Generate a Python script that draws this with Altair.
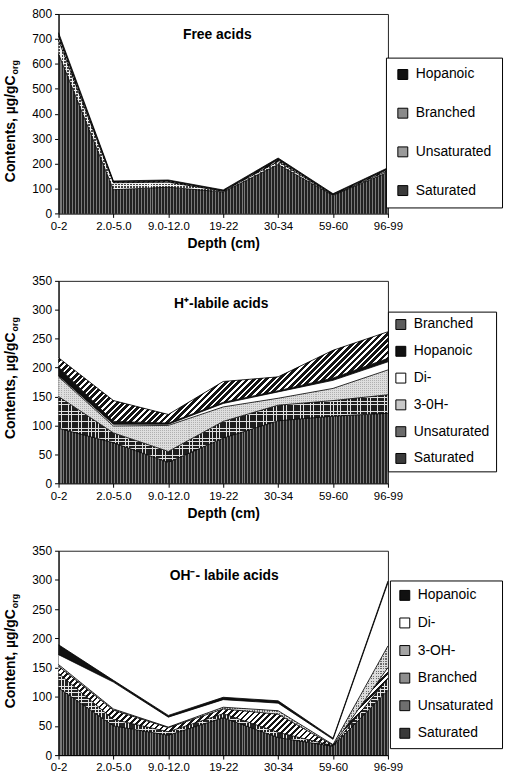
import math

import altair as alt
import pandas as pd

FONT = "Liberation Sans"

DEPTHS = ["0-2", "2.0-5.0", "9.0-12.0", "19-22", "30-34", "59-60", "96-99"]

# Free acids, µg/gC_org (stacked bottom -> top)
FREE_SATURATED = [640, 95, 105, 86, 196, 72, 165]
FREE_UNSATURATED = [55, 28, 20, 3, 12, 2, 6]
FREE_BRANCHED = [15, 3, 4, 2, 6, 2, 5]
FREE_HOPANOIC = [15, 4, 5, 3, 8, 3, 7]

# H+-labile acids
H_SATURATED = [95, 70, 36, 78, 108, 116, 121]
H_UNSATURATED = [55, 17, 19, 29, 27, 27, 32]
H_3OH = [34, 12, 45, 25, 12, 21, 43]
H_DI = [2, 3, 2, 6, 11, 14, 14]
H_HOPANOIC = [15, 5, 2, 2, 2, 4, 6]
H_BRANCHED = [16, 36, 15, 36, 24, 48, 46]

# OH--labile acids
OH_SATURATED = [115, 50, 34, 64, 30, 15, 111]
OH_UNSATURATED = [25, 11, 6, 7, 9, 1, 20]
OH_BRANCHED = [12, 16, 7, 8, 31, 1, 19]
OH_3OH = [3, 2, 1, 3, 6, 1, 37]
OH_DI = [17, 46, 17, 13, 13, 9, 108]
OH_HOPANOIC = [17, 3, 3, 4, 4, 2, 3]

PLOT_W = 332
CLEAR = "rgba(255,255,255,0)"


def stripes(col_a, col_b, n, frac_b, x2, y2):
    """Linear gradient made of n hard-edged bands (col_a then col_b)."""
    stops = []
    for i in range(n):
        s = round(i / n, 5)
        m = round((i + 1 - frac_b) / n, 5)
        e = round((i + 1) / n, 5)
        stops += [
            alt.GradientStop(offset=s, color=col_a),
            alt.GradientStop(offset=m, color=col_a),
            alt.GradientStop(offset=m, color=col_b),
            alt.GradientStop(offset=e, color=col_b),
        ]
    return alt.LinearGradient(gradient="linear", stops=stops, x1=0, y1=0, x2=x2, y2=y2)


def fills_for(kind, w, h):
    """Hatch fills (one or two stacked gradients) for a region of w x h pixels."""
    if kind[0] == "vert":
        _, dark, light, period, frac = kind
        return [stripes(dark, light, max(1, round(w / period)), frac, 1, 0)]
    if kind[0] == "grid":
        _, dark, light, period, frac = kind
        return [
            stripes(dark, light, max(1, round(w / period)), frac, 1, 0),
            stripes(CLEAR, light, max(1, round(h / period)), frac, 0, 1),
        ]
    if kind[0] == "diag":
        _, dark, light, period, frac = kind
        s = w * (w + h) / (w * w + h * h)
        n = max(1, round((w + h) / (period * math.sqrt(2))))
        return [stripes(light, dark, n, frac, s, s * h / w)]
    return []


def panel(series, legend_order, fills, patterns, ymax, ystep, height, title, title_xy,
          ytitle, ytitle_end, xtitle, legend_xy, row_pad, leg_pad):
    rows = []
    for k, (name, vals) in enumerate(series):
        for d, v in zip(DEPTHS, vals):
            rows.append({"depth": d, "component": name, "value": v, "k": k})
    df = pd.DataFrame(rows)

    base = alt.Chart(df).transform_stack(
        stack="value", groupby=["depth"], as_=["y0", "y1"],
        sort=[alt.SortField("k", order="ascending")],
    )
    x_axis = alt.Axis(labelAngle=0, labelFontSize=11.5, labelFont=FONT, labelColor="black",
                      tickSize=4, tickColor="black", domainColor="black",
                      labelPadding=3, titleFont=FONT, titleFontSize=14,
                      titleFontWeight="bold", titlePadding=5, titleColor="black")
    y_axis = alt.Axis(values=list(range(0, ymax + 1, ystep)), grid=False,
                      labelFontSize=12, labelFont=FONT, labelColor="black",
                      tickSize=4, tickColor="black", domainColor="black",
                      labelPadding=3, labelOverlap=False)
    # identical channel definitions in every layer so the shared axes merge cleanly
    x = alt.X("depth:O", sort=DEPTHS, scale=alt.Scale(type="point", padding=0),
              axis=x_axis, title=xtitle if xtitle else None)
    y = alt.Y("y1:Q", scale=alt.Scale(domain=[0, ymax], nice=False, zero=True),
              axis=y_axis, title=None)

    layers = [
        base.mark_area(strokeWidth=0, interpolate="linear").encode(
            x=x, y=y, y2="y0:Q",
            color=alt.Color(
                "component:N",
                scale=alt.Scale(domain=legend_order, range=[fills[c] for c in legend_order]),
                legend=alt.Legend(
                    orient="none", legendX=legend_xy[0], legendY=legend_xy[1], title=None,
                    labelFont=FONT, labelFontSize=14, labelColor="black",
                    symbolType="square", symbolSize=100, symbolStrokeColor="black",
                    symbolStrokeWidth=1, symbolOpacity=1, labelOffset=6,
                    rowPadding=row_pad, padding=leg_pad, strokeColor="black",
                    fillColor="white",
                ),
            ),
        )
    ]

    # hatch overlays, sized to each band's pixel extent
    px = height / ymax
    bottoms = [0] * len(DEPTHS)
    for name, vals in series:
        tops = [b + v for b, v in zip(bottoms, vals)]
        h_px = max(2.0, (max(tops) - min(bottoms)) * px)
        if name in patterns:
            for g in fills_for(patterns[name], PLOT_W, h_px):
                layers.append(
                    base.transform_filter(alt.datum.component == name)
                    .mark_area(fill=g, strokeWidth=0, interpolate="linear")
                    .encode(x=x, y=y, y2="y0:Q")
                )
        bottoms = tops

    # band boundaries
    layers.append(
        base.mark_line(color="black", strokeWidth=0.8, interpolate="linear").encode(
            x=x, y=y, detail="component:N"
        )
    )

    one = pd.DataFrame({"t": [0]})
    layers.append(alt.Chart(one).mark_text(
        text=title, font=FONT, fontSize=14, fontWeight="bold", color="black",
        align="center", baseline="middle",
    ).encode(x=alt.value(title_xy[0]), y=alt.value(title_xy[1])))
    layers.append(alt.Chart(one).mark_text(
        text=ytitle, font=FONT, fontSize=14, fontWeight="bold", color="black",
        angle=270, align="right", baseline="middle",
    ).encode(x=alt.value(-48), y=alt.value(ytitle_end)))
    layers.append(alt.Chart(one).mark_text(
        text="org", font=FONT, fontSize=9, fontWeight="bold", color="black",
        angle=270, align="left", baseline="middle",
    ).encode(x=alt.value(-44), y=alt.value(ytitle_end - 1)))

    return alt.layer(*layers).properties(width=PLOT_W, height=height)


SAT_FILL = "#3a3a3a"
SAT_PAT = ("vert", "#222222", "#7a7a7a", 3, 0.34)
HOP = "#111111"
DI = "#ffffff"

p1 = panel(
    [("Saturated", FREE_SATURATED), ("Unsaturated", FREE_UNSATURATED),
     ("Branched", FREE_BRANCHED), ("Hopanoic", FREE_HOPANOIC)],
    ["Hopanoic", "Branched", "Unsaturated", "Saturated"],
    {"Saturated": SAT_FILL, "Unsaturated": "#9a9a9a", "Branched": "#8a8a8a", "Hopanoic": HOP},
    {"Saturated": SAT_PAT,
     "Unsaturated": ("grid", "#444444", "#f2f2f2", 3, 0.35),
     "Branched": ("diag", "#111111", "#ffffff", 3.5, 0.45)},
    800, 100, 201, "Free acids", (160, 21),
    "Contents, µg/gC", 62, "Depth (cm)", (330, 44), 25, 10,
)

p2 = panel(
    [("Saturated", H_SATURATED), ("Unsaturated", H_UNSATURATED), ("3-0H-", H_3OH),
     ("Di-", H_DI), ("Hopanoic", H_HOPANOIC), ("Branched", H_BRANCHED)],
    ["Branched", "Hopanoic", "Di-", "3-0H-", "Unsaturated", "Saturated"],
    {"Saturated": SAT_FILL, "Unsaturated": "#6a6a6a", "3-0H-": "#c8c8c8", "Di-": DI,
     "Hopanoic": HOP, "Branched": "#5c5c5c"},
    {"Saturated": SAT_PAT,
     "Unsaturated": ("grid", "#1e1e1e", "#e0e0e0", 3.4, 0.2),
     "3-0H-": ("grid", "#b0b0b0", "#dedede", 2, 0.5),
     "Branched": ("diag", "#151515", "#ffffff", 4.5, 0.6)},
    350, 50, 204, "H⁺-labile acids", (164, 23),
    "Contents, µg/gC", 52, "Depth (cm)", (332, 31), 13, 6,
)

p3 = panel(
    [("Saturated", OH_SATURATED), ("Unsaturated", OH_UNSATURATED), ("Branched", OH_BRANCHED),
     ("3-OH-", OH_3OH), ("Di-", OH_DI), ("Hopanoic", OH_HOPANOIC)],
    ["Hopanoic", "Di-", "3-OH-", "Branched", "Unsaturated", "Saturated"],
    {"Saturated": SAT_FILL, "Unsaturated": "#6e6e6e", "Branched": "#8e8e8e", "3-OH-": "#a4a4a4",
     "Di-": DI, "Hopanoic": HOP},
    {"Saturated": SAT_PAT,
     "Unsaturated": ("grid", "#222222", "#e6e6e6", 3.4, 0.24),
     "3-OH-": ("grid", "#6a6a6a", "#dcdcdc", 2.5, 0.5),
     "Branched": ("diag", "#151515", "#ffffff", 4.2, 0.45)},
    350, 50, 206, "OH⁻- labile acids", (167, 26),
    "Content, µg/gC", 59, None, (334, 30), 13.8, 8,
)

chart = alt.vconcat(p1, p2, p3, spacing=23).resolve_scale(color="independent").resolve_legend(
    color="independent"
).properties(
    padding={"left": 3, "top": 4, "right": 2, "bottom": 2}, background="white"
).configure_view(stroke="#222222", strokeWidth=1)

chart.save("out.html", embed_options={"renderer": "svg", "actions": False})
